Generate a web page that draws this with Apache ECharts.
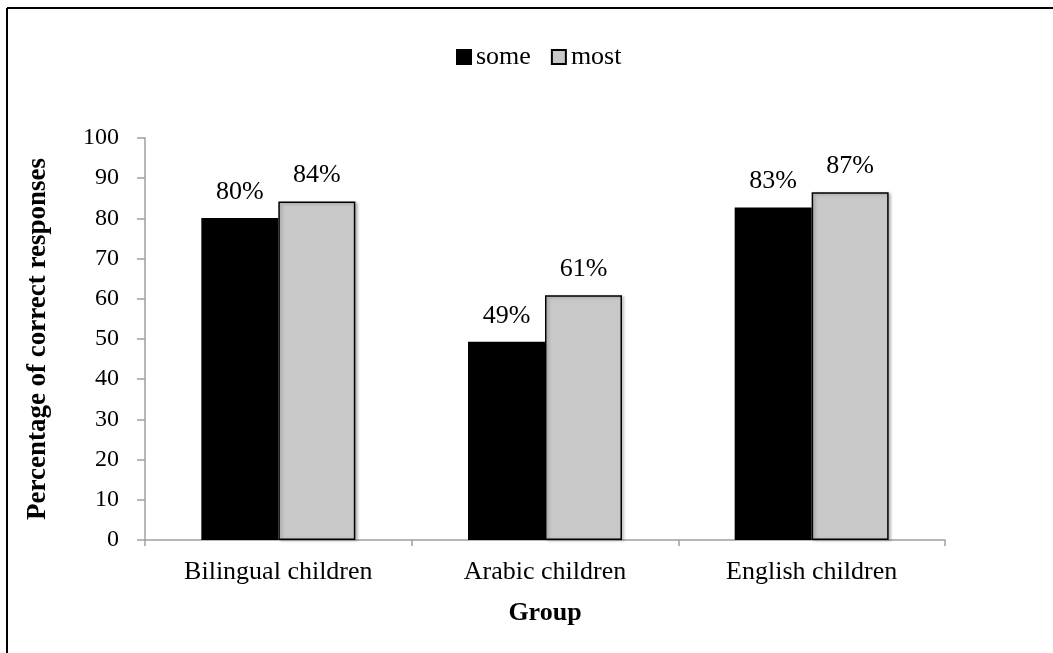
<!DOCTYPE html>
<html>
<head>
<meta charset="utf-8">
<script src="https://cdn.jsdelivr.net/npm/echarts@6/dist/echarts.min.js"></script>
<style>
	html, body { margin: 0; padding: 0; background: #fff; }
	#chart { width: 1053px; height: 653px; }
</style>
</head>
<body>
<div id="chart"></div>
<script>
	// data
	const groups = ['Bilingual children', 'Arabic children', 'English children']
	const someValues = [80.1, 49.3, 82.7]
	const mostValues = [84.2, 60.9, 86.5]
	const yTicks = { min: 0, max: 100, interval: 10 }

	const FONT = '"Liberation Serif", "Times New Roman", serif'
	const axisGray = '#a0a0a0'

	const chart = echarts.init(document.getElementById('chart'), null, { renderer: 'canvas' })

	const pctLabel = {
		show: true,
		position: 'top',
		distance: 13,
		fontFamily: FONT,
		fontSize: 26,
		color: '#000',
		formatter: p => Math.round(p.value) + '%'
	}

	const opts = {
		animation: false,
		backgroundColor: '#fff',
		textStyle: { fontFamily: FONT, color: '#000' },
		graphic: [
			{ type: 'line', shape: { x1: 7, y1: 8, x2: 1053, y2: 8 }, style: { stroke: '#000', lineWidth: 2 } },
			{ type: 'line', shape: { x1: 7, y1: 8, x2: 7, y2: 653 }, style: { stroke: '#000', lineWidth: 2 } }
		],
		legend: {
			top: 44,
			left: 456,
			padding: 0,
			itemWidth: 14,
			itemHeight: 14,
			itemGap: 20,
			icon: 'rect',
			textStyle: { fontFamily: FONT, fontSize: 26, color: '#000' },
			data: ['some', 'most']
		},
		grid: { left: 145, right: 108, top: 138, bottom: 113, containLabel: false },
		xAxis: {
			type: 'category',
			data: groups,
			name: 'Group',
			nameLocation: 'middle',
			nameGap: 60,
			nameTextStyle: { fontFamily: FONT, fontSize: 26, fontWeight: 'bold', color: '#000' },
			axisLine: { lineStyle: { color: axisGray, width: 1.5 } },
			axisTick: { show: true, length: 6, lineStyle: { color: axisGray, width: 1.5 } },
			axisLabel: { fontFamily: FONT, fontSize: 26, color: '#000', margin: 19 }
		},
		yAxis: {
			type: 'value',
			min: yTicks.min,
			max: yTicks.max,
			interval: yTicks.interval,
			name: 'Percentage of correct responses',
			nameLocation: 'middle',
			nameGap: 93,
			nameRotate: 90,
			nameTextStyle: { fontFamily: FONT, fontSize: 27, fontWeight: 'bold', color: '#000' },
			splitLine: { show: false },
			axisLine: { show: true, lineStyle: { color: axisGray, width: 1.5 } },
			axisTick: { show: true, length: 8, lineStyle: { color: axisGray, width: 1.5 } },
			axisLabel: { fontFamily: FONT, fontSize: 24, color: '#000', margin: 26 }
		},
		series: [
			{
				name: 'some',
				type: 'bar',
				data: someValues,
				barWidth: 77,
				barGap: '0%',
				itemStyle: { color: '#000', borderColor: '#000', borderWidth: 1.5 },
				label: pctLabel
			},
			{
				name: 'most',
				type: 'bar',
				data: mostValues,
				barWidth: 77,
				itemStyle: {
					color: '#c8c8c8', borderColor: '#000', borderWidth: 1.5,
					shadowColor: 'rgba(0,0,0,0.25)', shadowBlur: 3, shadowOffsetX: 2, shadowOffsetY: 1
				},
				label: pctLabel
			}
		]
	}

	chart.setOption(opts)
</script>
</body>
</html>
